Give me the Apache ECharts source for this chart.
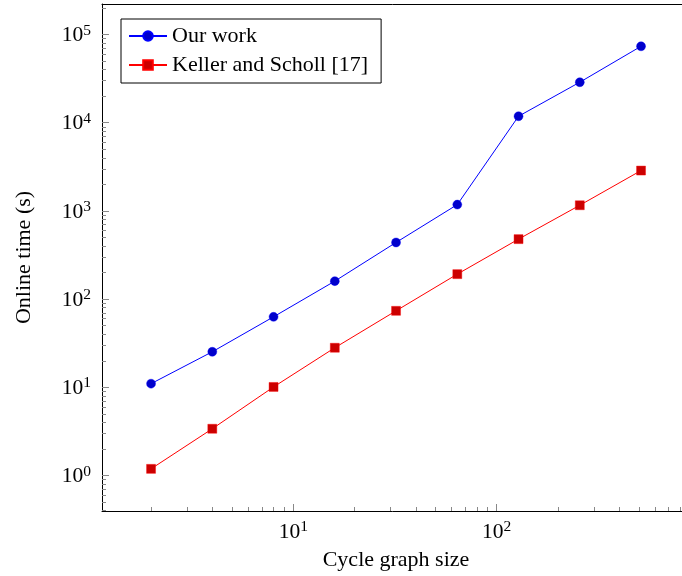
<!DOCTYPE html>
<html>
<head>
    <meta charset="utf-8">
    <title>Online time</title>
    <script src="https://cdn.jsdelivr.net/npm/echarts@6/dist/echarts.min.js"></script>
    <style>
        body { margin: 0; background: #fff; }
        #chart { width: 682px; height: 576px; }
    </style>
</head>
<body>
    <div id="chart"></div>
    <script type="text/javascript">
        // cycle graph sizes
        var sizes = [2, 4, 8, 16, 32, 64, 128, 256, 512];
        // online time in seconds
        var ourWork = [11.0, 25.3, 63.0, 160, 439, 1180, 11850, 28800, 73600];
        var kellerScholl = [1.19, 3.39, 10.1, 28.1, 73.7, 192, 479, 1160, 2870];
        var seriesNames = ['Our work', 'Keller and Scholl [17]'];

        // axis ranges and ticks
        var xRange = [1.148, 891];
        var yRange = [0.396, 222000];
        var minorSteps = [2, 3, 4, 5, 6, 7, 8, 9];

        function minorTicks(range) {
            var out = [];
            for (var e = -1; e <= 6; e++) {
                minorSteps.forEach(function (m) {
                    var v = m * Math.pow(10, e);
                    if (v > range[0] && v < range[1]) out.push(+v.toPrecision(6));
                });
            }
            return out;
        }

        var font = "'Liberation Serif', 'DejaVu Serif', serif";
        var richPow = {
            b: { fontFamily: font, fontSize: 21.5, color: '#000', verticalAlign: 'bottom' },
            s: { fontFamily: font, fontSize: 15.5, color: '#000', verticalAlign: 'bottom', padding: [0, 0, 8, 0] }
        };
        function powLabel(v) {
            var p = Math.log10(v);
            var r = Math.round(p);
            if (Math.abs(p - r) > 1e-6) return '';
            return '{b|10}{s|' + r + '}';
        }

        var tickStyle = { color: '#888', width: 1 };

        var myChart = echarts.init(document.getElementById('chart'));
        var option = {
            animation: false,
            backgroundColor: '#fff',
            grid: { left: 102, top: 4, right: -8, bottom: 65, outerBoundsMode: 'none' },
            legend: {
                orient: 'vertical',
                left: 121, top: 19,
                padding: [6, 13, 7, 7],
                itemGap: 7,
                itemWidth: 38, itemHeight: 12,
                borderColor: '#000', borderWidth: 1,
                backgroundColor: '#fff',
                textStyle: { fontFamily: font, fontSize: 22, color: '#000' },
                data: seriesNames
            },
            xAxis: [{
                type: 'log', min: xRange[0], max: xRange[1], position: 'bottom',
                axisLine: { lineStyle: { color: '#000', width: 1 } },
                axisTick: { inside: true, length: 7, lineStyle: tickStyle },
                axisLabel: { margin: 8, showMinLabel: false, showMaxLabel: false, formatter: powLabel, rich: richPow },
                splitLine: { show: false },
                name: 'Cycle graph size', nameLocation: 'middle', nameGap: 38,
                nameTextStyle: { fontFamily: font, fontSize: 22, color: '#000' }
            }, {
                type: 'log', min: xRange[0], max: xRange[1], position: 'bottom',
                axisLine: { show: false },
                axisTick: { inside: true, length: 4, lineStyle: tickStyle, customValues: minorTicks(xRange) },
                axisLabel: { show: false },
                splitLine: { show: false }
            }, {
                type: 'log', min: xRange[0], max: xRange[1], position: 'top',
                axisLine: { lineStyle: { color: '#000', width: 1 } },
                axisTick: { show: false }, axisLabel: { show: false }, splitLine: { show: false }
            }],
            yAxis: [{
                type: 'log', min: yRange[0], max: yRange[1], position: 'left',
                axisLine: { show: true, lineStyle: { color: '#000', width: 1 } },
                axisTick: { show: true, inside: true, length: 7, lineStyle: tickStyle },
                axisLabel: { margin: 11, showMinLabel: false, showMaxLabel: false, formatter: powLabel, rich: richPow },
                splitLine: { show: false },
                name: 'Online time (s)', nameLocation: 'middle', nameGap: 67, nameRotate: 90,
                nameTextStyle: { fontFamily: font, fontSize: 22, color: '#000' }
            }, {
                type: 'log', min: yRange[0], max: yRange[1], position: 'left',
                axisLine: { show: false },
                axisTick: { show: true, inside: true, length: 4, lineStyle: tickStyle, customValues: minorTicks(yRange) },
                axisLabel: { show: false },
                splitLine: { show: false }
            }],
            series: [{
                name: seriesNames[0], type: 'line',
                data: sizes.map(function (s, i) { return [s, ourWork[i]]; }),
                symbol: 'circle', symbolSize: 9,
                lineStyle: { color: '#0000ff', width: 1 },
                itemStyle: { color: '#0000cc', borderColor: '#0000ff', borderWidth: 0.4 }
            }, {
                name: seriesNames[1], type: 'line',
                data: sizes.map(function (s, i) { return [s, kellerScholl[i]]; }),
                symbol: 'rect', symbolSize: 9,
                lineStyle: { color: '#ff0000', width: 1 },
                itemStyle: { color: '#cc0000', borderColor: '#ff0000', borderWidth: 0.4 }
            }]
        };
        myChart.setOption(option);
    </script>
</body>
</html>
